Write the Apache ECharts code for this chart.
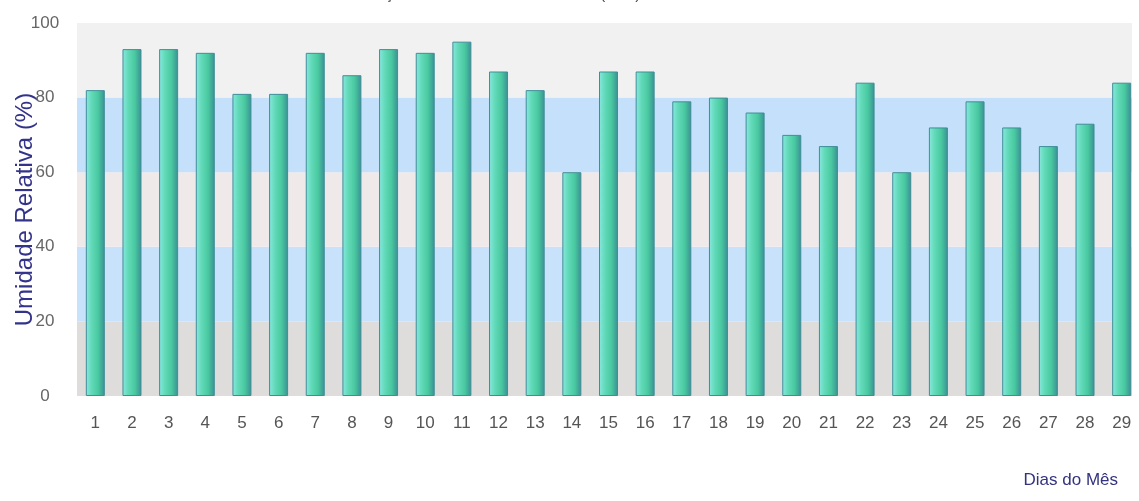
<!DOCTYPE html>
<html>
<head>
<meta charset="utf-8">
<script src="https://cdn.jsdelivr.net/npm/echarts@6/dist/echarts.min.js"></script>
<style>html,body{margin:0;padding:0;background:#fff;}#c{width:1139px;height:501px;}</style>
</head>
<body>
<div id="c"></div>
<script>
const titleText = "Evolução Diária da Umidade Relativa (U.R.) em Fevereiro de 2012";
const yAxisName = "Umidade Relativa (%)";
const xAxisName = "Dias do Mês";
const days = ["1","2","3","4","5","6","7","8","9","10","11","12","13","14","15","16","17","18","19","20","21","22","23","24","25","26","27","28","29"];
const humidity = [82,93,93,92,81,81,92,86,93,92,95,87,82,60,87,87,79,80,76,70,67,84,60,72,79,72,67,73,84];
const yTicks = [0,20,40,60,80,100];

const FONT = 'Liberation Sans, Arial, sans-serif';
const chart = echarts.init(document.getElementById('c'), null, {renderer:'canvas'});
chart.setOption({
  animation:false,
  backgroundColor:'#ffffff',
  title:{text:titleText,left:'center',top:-13,padding:0,
    textStyle:{fontFamily:FONT,fontSize:15,fontWeight:'normal',color:'#444',lineHeight:15}},
  grid:[
    {left:77,right:7,top:23,bottom:105,containLabel:false,outerBoundsMode:'none'},
    {left:77,right:-1,top:23,bottom:105,containLabel:false,outerBoundsMode:'none'}
  ],
  xAxis:[
    {gridIndex:0,type:'category',data:days,show:true,
      name:xAxisName,nameLocation:'end',nameGap:0,
      nameTextStyle:{fontFamily:FONT,fontSize:17,color:'#33337f',align:'right',verticalAlign:'top',padding:[76,14,0,0]},
      axisLine:{show:false},axisTick:{show:false},axisLabel:{show:false},splitLine:{show:false}},
    {gridIndex:1,type:'category',data:days,
      axisLine:{show:false},axisTick:{show:false},
      axisLabel:{fontFamily:FONT,fontSize:17,color:'#555',margin:19},
      splitLine:{show:false}}
  ],
  yAxis:[
    {gridIndex:0,type:'value',min:0,max:100,interval:20,
      axisLine:{show:false},axisTick:{show:false},axisLabel:{show:false},
      splitLine:{show:false},
      splitArea:{show:true,areaStyle:{color:['#dfdcdc','#c9e2fb','#efe9ea','#c5e0fb','#f2f1f1']}}},
    {gridIndex:1,type:'value',min:0,max:100,interval:20,
      name:yAxisName,nameLocation:'middle',nameGap:40,nameRotate:90,nameMoveOverlap:false,
      nameTextStyle:{fontFamily:FONT,fontSize:24,color:'#33338a'},
      axisLine:{show:false},axisTick:{show:false},
      axisLabel:{fontFamily:FONT,fontSize:17,color:'#666',margin:32,align:'center',
        formatter:function(v){return yTicks.indexOf(v)>=0?String(v):'';}},
      splitLine:{show:false},splitArea:{show:false}}
  ],
  series:[{type:'bar',xAxisIndex:1,yAxisIndex:1,data:humidity,barWidth:19,
    itemStyle:{borderColor:'#3f8e98',borderWidth:1,
      color:new echarts.graphic.LinearGradient(0,0,1,0,[
        {offset:0,color:'#8ae8e0'},
        {offset:0.3,color:'#62dab8'},
        {offset:0.65,color:'#49c9a0'},
        {offset:1,color:'#3a8f94'}])}}]
});
</script>
</body>
</html>
